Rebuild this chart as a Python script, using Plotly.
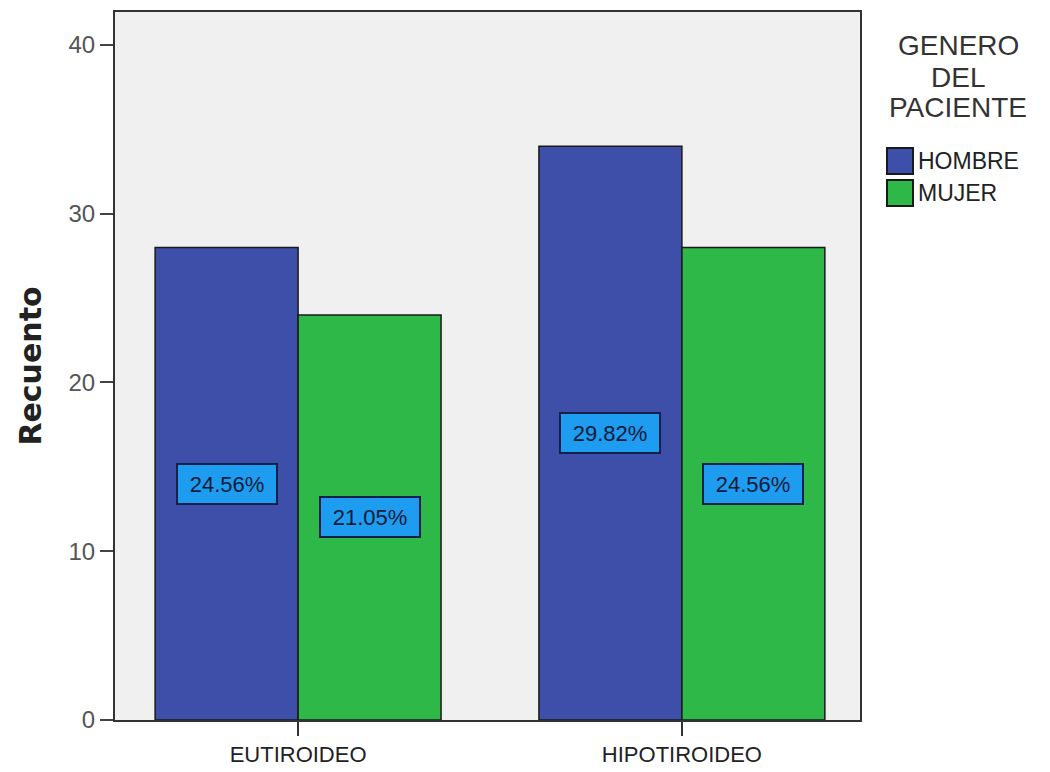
import plotly.graph_objects as go

# Counts by thyroid status and patient gender
categories = ["EUTIROIDEO", "HIPOTIROIDEO"]
genders = ["HOMBRE", "MUJER"]
counts = {
    "HOMBRE": [28, 34],
    "MUJER": [24, 28],
}
legend_title_lines = ["GENERO", "DEL", "PACIENTE"]
total = sum(sum(v) for v in counts.values())

colors = {"HOMBRE": "#3E4FAA", "MUJER": "#2DB848"}
bargap = 0.255
bar_w = (1 - bargap) / len(genders)

W, H = 1050, 772
M = dict(l=115, r=190, t=12, b=52)
plot_w = W - M["l"] - M["r"]
plot_h = H - M["t"] - M["b"]


def px_x(px):
    """Pixel column -> paper x."""
    return (px - M["l"]) / plot_w


def px_y(py):
    """Pixel row (from top) -> paper y."""
    return (H - M["b"] - py) / plot_h


fig = go.Figure()
for g in genders:
    fig.add_trace(go.Bar(
        name=g,
        x=categories,
        y=counts[g],
        showlegend=False,
        marker=dict(color=colors[g], line=dict(color="#1a1a1a", width=1.5)),
    ))

# Percentage-of-total labels boxed at mid-height of each bar
for gi, g in enumerate(genders):
    offset = -(1 - bargap) / 2 + bar_w * (gi + 0.5)
    for ci, v in enumerate(counts[g]):
        fig.add_annotation(
            x=ci + offset, y=v / 2, xref="x", yref="y",
            text=f"{100 * v / total:.2f}%",
            showarrow=False,
            font=dict(family="Liberation Sans, Arial", size=22, color="#0d1a3a"),
            bgcolor="#1E9CF0",
            bordercolor="#14204a",
            borderwidth=2,
            borderpad=1,
            width=96, height=36,
            align="center", valign="middle",
        )

# Legend: title lines plus square swatches
for i, line in enumerate(legend_title_lines):
    fig.add_annotation(
        x=px_x(958), y=px_y(46 + i * 31), xref="paper", yref="paper",
        xanchor="center", yanchor="middle",
        text=line, showarrow=False,
        font=dict(family="Liberation Sans, Arial", size=28, color="#333"),
    )
for i, g in enumerate(genders):
    top = 148 + i * 32
    fig.add_shape(
        type="rect", xref="paper", yref="paper",
        x0=px_x(887), x1=px_x(913), y0=px_y(top + 26), y1=px_y(top),
        fillcolor=colors[g], line=dict(color="#1a1a1a", width=2),
    )
    fig.add_annotation(
        x=px_x(916), y=px_y(top + 13), xref="paper", yref="paper",
        xanchor="left", yanchor="middle",
        text=g, showarrow=False,
        font=dict(family="Liberation Sans, Arial", size=23, color="#222"),
    )

fig.update_layout(
    width=W, height=H,
    margin=M,
    paper_bgcolor="white",
    plot_bgcolor="#F0F0F0",
    barmode="group",
    bargap=bargap,
    bargroupgap=0,
    font=dict(family="Liberation Sans, Arial", color="#222"),
    showlegend=False,
)

fig.update_xaxes(
    type="category",
    range=[-0.477, 1.464],
    automargin=False,
    showgrid=False,
    ticks="outside", ticklen=14, tickwidth=1.5, tickcolor="#333",
    tickfont=dict(size=22, color="#222"),
    showline=True, linecolor="#333", linewidth=2, mirror=True,
)
fig.update_yaxes(
    range=[0, 41.95],
    tickvals=[0, 10, 20, 30, 40],
    automargin=False,
    showgrid=False, zeroline=False,
    ticks="outside", ticklen=13, tickwidth=1.5, tickcolor="#444",
    tickfont=dict(size=24, color="#555"),
    showline=True, linecolor="#333", linewidth=2, mirror=True,
    title=dict(text="<b>Recuento</b>",
               font=dict(family="DejaVu Sans", size=30, color="#222"),
               standoff=18),
)

fig.write_html("out.html")
